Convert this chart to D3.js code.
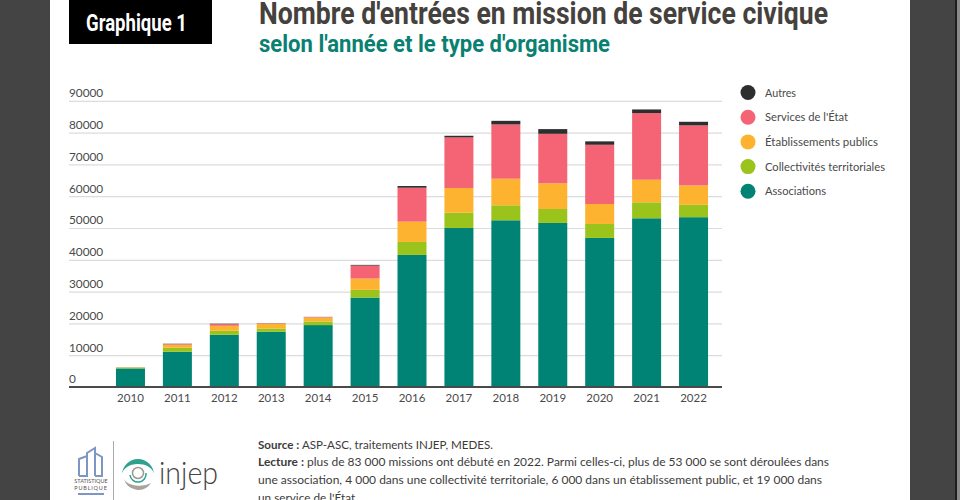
<!DOCTYPE html>
<html>
<head>
<meta charset="utf-8">
<script src="https://cdn.jsdelivr.net/npm/d3@7"></script>
<style>
  html, body { margin: 0; padding: 0; background: #444; overflow: hidden; }
  text { font-family: "Lato", "Open Sans", sans-serif; }
  .narrow { font-family: "Roboto", sans-serif; font-weight: 700; }
</style>
</head>
<body>
<div id="chart"></div>
<script>
// Data
var years = ["2010", "2011", "2012", "2013", "2014", "2015", "2016", "2017", "2018", "2019", "2020", "2021", "2022"];
var associations = [5840, 11080, 16420, 17360, 19470, 28130, 41540, 50020, 52430, 51590, 46880, 53060, 53400];
var collectivites = [210, 1260, 1260, 1040, 1130, 2420, 4080, 4800, 4710, 4390, 4390, 5020, 3900];
var etablissements = [100, 940, 1570, 1570, 1250, 3550, 6380, 7750, 8360, 8070, 6280, 7100, 6100];
var services = [10, 220, 530, 80, 150, 4080, 10670, 15920, 17070, 15570, 18620, 20950, 18860];
var autres = [40, 100, 120, 50, 50, 220, 530, 510, 1130, 1480, 1070, 1150, 1140];
var seriesNames = ["Associations", "Collectivités territoriales", "Établissements publics", "Services de l'État", "Autres"];
var seriesColors = ["#008275", "#9ac31c", "#fdb32f", "#f46474", "#2e2e2e"];
var yTicks = [0, 10000, 20000, 30000, 40000, 50000, 60000, 70000, 80000, 90000];

var rows = years.map(function(y, i) {
  return {
    year: y,
    "Associations": associations[i],
    "Collectivités territoriales": collectivites[i],
    "Établissements publics": etablissements[i],
    "Services de l'État": services[i],
    "Autres": autres[i]
  };
});

var svgWidth = 960;
var svgHeight = 500;

var svg = d3.select("#chart")
  .append("svg")
  .attr("width", svgWidth)
  .attr("height", svgHeight)
  .style("display", "block");

// squeeze a text to the width it has in the picture (no PT Sans here)
function fit(sel, len) {
  return sel.attr("textLength", len).attr("lengthAdjust", "spacingAndGlyphs");
}

// page background
svg.append("rect").attr("width", svgWidth).attr("height", svgHeight).attr("fill", "#444");
svg.append("rect").attr("x", 50).attr("width", 860).attr("height", svgHeight).attr("fill", "#fff");
svg.append("rect").attr("x", 955).attr("width", 2).attr("height", svgHeight).attr("fill", "#1f1f1f");
svg.append("rect").attr("x", 957).attr("width", 3).attr("height", svgHeight).attr("fill", "#8a8a8a");

// header
svg.append("rect").attr("x", 69).attr("y", 0).attr("width", 143).attr("height", 44).attr("fill", "#000");
fit(svg.append("text").attr("class", "narrow").attr("x", 86).attr("y", 31)
  .attr("font-size", 23).attr("fill", "#fff").text("Graphique 1"), 101);
fit(svg.append("text").attr("class", "narrow").attr("x", 259).attr("y", 24)
  .attr("font-size", 32).attr("fill", "#45413c").text("Nombre d'entrées en mission de service civique"), 569);
fit(svg.append("text").attr("class", "narrow").attr("x", 259).attr("y", 52)
  .attr("font-size", 23).attr("fill", "#0a8072").text("selon l'année et le type d'organisme"), 351);

// scales
var x = d3.scaleBand().domain(years).range([107, 717]).paddingInner(0.382).paddingOuter(0.191);
var y = d3.scaleLinear().domain([0, 90000]).range([387, 100.8]);

// grid + y labels
var yAxis = d3.axisLeft(y).tickValues(yTicks).tickSize(0).tickFormat(d3.format("d"));
var yG = svg.append("g").attr("transform", "translate(69,0)").call(yAxis);
yG.select(".domain").remove();
yG.selectAll(".tick text")
  .attr("x", 0)
  .attr("y", -4.2)
  .attr("dy", 0)
  .attr("text-anchor", "start")
  .attr("font-size", 11.8)
  .attr("font-family", "Lato")
  .attr("fill", "#4a4a4a");
yG.selectAll(".tick line")
  .attr("x2", 653)
  .attr("stroke", function(d) { return d === 0 ? "none" : "#dcdcdc"; })
  .attr("stroke-width", 1.2);

// stacked bars
var stack = d3.stack().keys(seriesNames);
var stacked = stack(rows);

svg.append("g").selectAll("g")
  .data(stacked)
  .enter()
  .append("g")
  .attr("fill", function(d, i) { return seriesColors[i]; })
  .selectAll("rect")
  .data(function(d) { return d; })
  .enter()
  .append("rect")
  .attr("x", function(d) { return x(d.data.year); })
  .attr("y", function(d) { return y(d[1]); })
  .attr("width", x.bandwidth())
  .attr("height", function(d) { return y(d[0]) - y(d[1]); });

// x axis
var xAxis = d3.axisBottom(x).tickSize(0).tickPadding(7);
var xG = svg.append("g").attr("transform", "translate(0,387)").call(xAxis);
xG.select(".domain").remove();
xG.append("line").attr("x1", 69).attr("x2", 722).attr("stroke", "#4a4a4a").attr("stroke-width", 2);
xG.selectAll(".tick text")
  .attr("font-size", 11.5)
  .attr("font-family", "Lato")
  .attr("fill", "#4a4a4a");

// legend
var legendNames = seriesNames.slice().reverse();
var legendColors = seriesColors.slice().reverse();
var legendWidths = [31, 83, 113, 120, 61];
var legend = svg.append("g").selectAll("g")
  .data(legendNames)
  .enter()
  .append("g")
  .attr("transform", function(d, i) { return "translate(748," + (92.5 + i * 24.7) + ")"; });
legend.append("circle").attr("r", 7.5).attr("fill", function(d, i) { return legendColors[i]; });
legend.append("text").attr("x", 17).attr("y", 4)
  .attr("font-size", 12).attr("fill", "#4a4a4a")
  .attr("textLength", function(d, i) { return legendWidths[i]; })
  .attr("lengthAdjust", "spacingAndGlyphs")
  .text(function(d) { return d; });

// notes
var note = svg.append("g").attr("font-size", 12).attr("fill", "#3c3c3c");
var noteLines = [
  [["Source : ", true], ["ASP-ASC, traitements INJEP, MEDES.", false]],
  [["Lecture : ", true], ["plus de 83 000 missions ont débuté en 2022. Parmi celles-ci, plus de 53 000 se sont déroulées dans", false]],
  [["une association, 4 000 dans une collectivité territoriale, 6 000 dans un établissement public, et 19 000 dans", false]],
  [["un service de l'État.", false]]
];
var noteWidths = [235, 571, 564, 100];
noteLines.forEach(function(parts, i) {
  var t = note.append("text").attr("x", 258).attr("y", 448.5 + i * 17.8);
  parts.forEach(function(p) {
    t.append("tspan").attr("font-weight", p[1] ? 700 : 400).text(p[0]);
  });
  fit(t, noteWidths[i]);
});

// logos
var logo = svg.append("g");
logo.append("path")
  .attr("d", "M79 476V459L87 456V476H79M87 456V453L95 448V476M95 453L102 457V476H95")
  .attr("fill", "none").attr("stroke", "#7d96c4").attr("stroke-width", 2);
logo.append("text").attr("x", 91).attr("y", 483).attr("text-anchor", "middle")
  .attr("font-size", 5.5).attr("fill", "#555").text("STATISTIQUE");
logo.append("text").attr("x", 91).attr("y", 490).attr("text-anchor", "middle")
  .attr("font-size", 5.5).attr("letter-spacing", 0.8).attr("fill", "#555").text("PUBLIQUE");
logo.append("rect").attr("x", 78).attr("y", 493).attr("width", 26).attr("height", 2).attr("fill", "#7d96c4");
logo.append("line").attr("x1", 113.5).attr("x2", 113.5).attr("y1", 441).attr("y2", 500).attr("stroke", "#aaa");
logo.append("path").attr("d", "M122 475A16 16 0 0 1 154 475A16 11 0 0 0 122 475Z").attr("fill", "#2fa18f");
logo.append("path").attr("d", "M124 479A15 15 0 0 0 151 483A16 9 0 0 1 124 479Z").attr("fill", "#a8a49c");
logo.append("circle").attr("cx", 138).attr("cy", 473).attr("r", 5.5).attr("fill", "none").attr("stroke", "#9a9a92").attr("stroke-width", 1.5);
logo.append("path").attr("d", "M130 475A8 8 0 0 0 146 473").attr("fill", "none").attr("stroke", "#2fa18f").attr("stroke-width", 1.5);
fit(logo.append("text").attr("x", 159).attr("y", 484).attr("font-size", 32)
  .attr("font-family", "Lato").attr("font-weight", 300).attr("fill", "#444").text("injep"), 59);
</script>
</body>
</html>
